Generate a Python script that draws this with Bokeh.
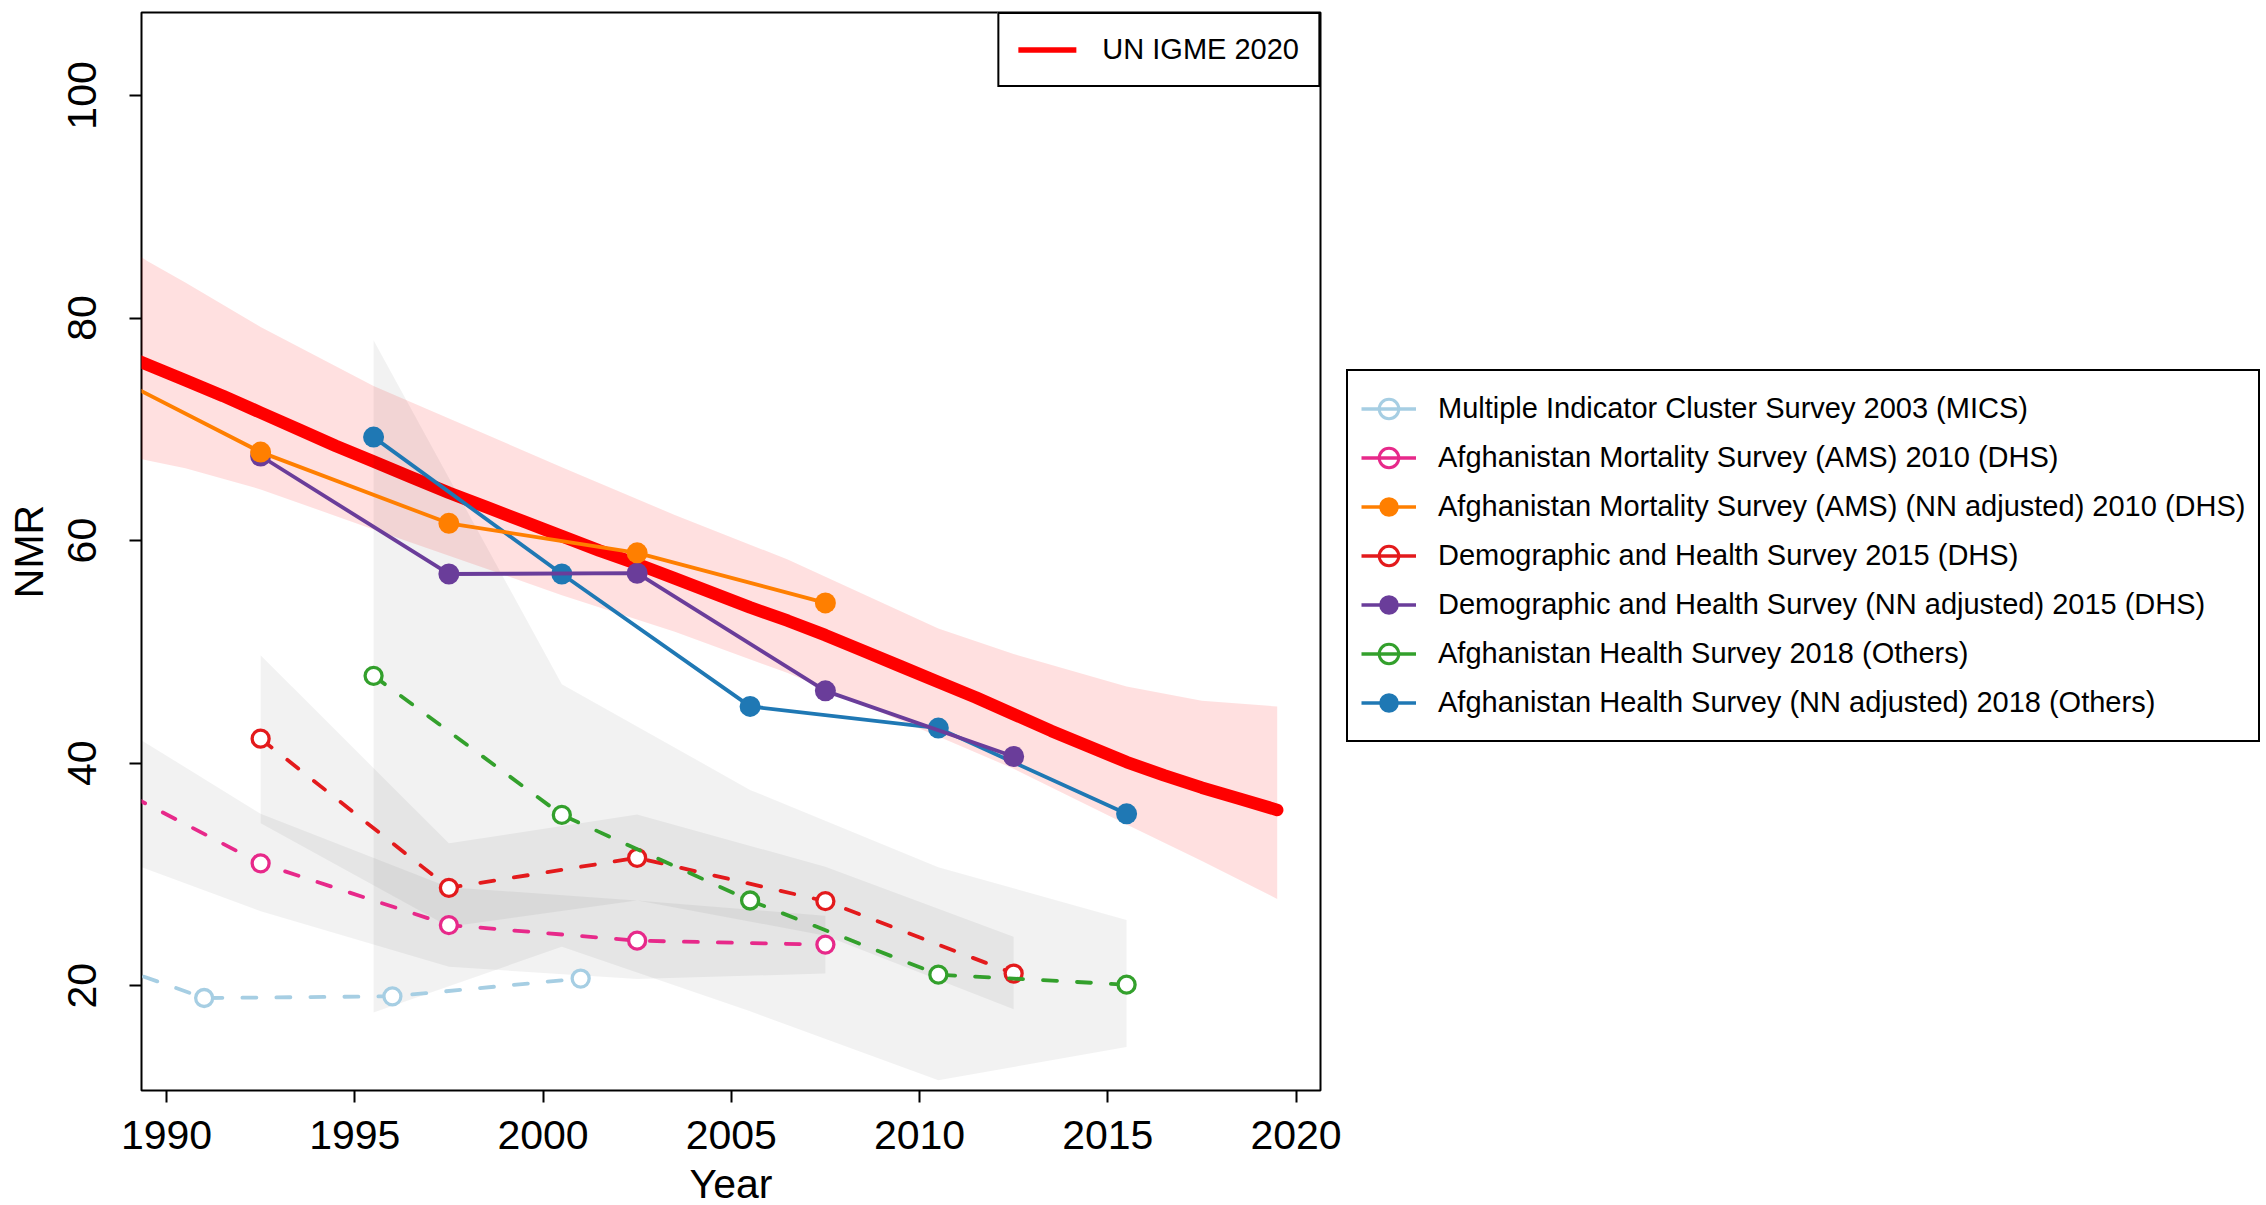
from bokeh.plotting import figure
from bokeh.models import Range1d, FixedTicker, Legend, LegendItem
from bokeh.embed import file_html
from bokeh.resources import INLINE

FONT = "Liberation Sans"
NAN = float("nan")

# ---------------- data ----------------
x_ticks = [1990, 1995, 2000, 2005, 2010, 2015, 2020]
y_ticks = [20, 40, 60, 80, 100]

# UN IGME 2020 estimate
igme_years = [1988.5, 1989.5, 1990.5, 1991.5, 1992.5, 1993.5, 1994.5, 1995.5, 1996.5, 1997.5,
              1998.5, 1999.5, 2000.5, 2001.5, 2002.5, 2003.5, 2004.5, 2005.5, 2006.5, 2007.5,
              2008.5, 2009.5, 2010.5, 2011.5, 2012.5, 2013.5, 2014.5, 2015.5, 2016.5, 2017.5,
              2018.5, 2019.5]
igme_nmr = [77.2, 75.8, 74.4, 73.0, 71.5, 70.0, 68.5, 67.1, 65.7, 64.3,
            63.0, 61.7, 60.4, 59.1, 57.9, 56.6, 55.3, 54.0, 52.8, 51.5,
            50.1, 48.7, 47.3, 45.9, 44.4, 42.9, 41.5, 40.1, 38.9, 37.8,
            36.8, 35.8]
# UN IGME uncertainty band
band_years = [1988.5, 1989.5, 1990.5, 1992.5, 1995.5, 2000.5, 2003.5, 2006.5, 2010.5,
              2012.5, 2015.5, 2017.5, 2019.5]
band_upper = [87.2, 85.1, 83.2, 79.2, 73.9, 66.6, 62.3, 58.3, 52.1, 49.8, 46.9, 45.6, 45.1]
band_lower = [67.9, 67.2, 66.5, 64.6, 61.0, 55.1, 51.8, 48.1, 42.4, 39.5, 34.5, 31.2, 27.8]

# Survey series
mics_years = [1986.0, 1991.0, 1996.0, 2001.0]
mics_nmr = [24.9, 18.9, 19.05, 20.65]

ams_years = [1987.5, 1992.5, 1997.5, 2002.5, 2007.5]
ams_nmr = [39.8, 31.0, 25.45, 24.05, 23.7]
ams_upper = [45.9, 35.45, 28.86, 27.66, 26.3]
ams_lower = [32.95, 26.7, 21.7, 20.6, 21.1]

ams_adj_years = [1987.5, 1992.5, 1997.5, 2002.5, 2007.5]
ams_adj_nmr = [76.6, 67.95, 61.55, 58.9, 54.4]

dhs_years = [1992.5, 1997.5, 2002.5, 2007.5, 2012.5]
dhs_nmr = [42.2, 28.8, 31.5, 27.6, 21.1]
dhs_upper = [49.7, 32.8, 35.4, 30.7, 24.4]
dhs_lower = [34.6, 25.3, 27.66, 24.5, 17.9]

dhs_adj_years = [1992.5, 1997.5, 2002.5, 2007.5, 2012.5]
dhs_adj_nmr = [67.6, 57.0, 57.07, 46.5, 40.6]

ahs_years = [1995.5, 2000.5, 2005.5, 2010.5, 2015.5]
ahs_nmr = [47.85, 35.35, 27.66, 21.0, 20.1]
ahs_upper = [78.0, 47.1, 37.6, 30.65, 25.9]
ahs_lower = [17.6, 23.5, 17.7, 11.5, 14.5]

ahs_adj_years = [1995.5, 2000.5, 2005.5, 2010.5, 2015.5]
ahs_adj_nmr = [69.3, 57.0, 45.1, 43.15, 35.45]

labels = [
    "Multiple Indicator Cluster Survey 2003 (MICS)",
    "Afghanistan Mortality Survey (AMS) 2010 (DHS)",
    "Afghanistan Mortality Survey (AMS) (NN adjusted) 2010 (DHS)",
    "Demographic and Health Survey 2015 (DHS)",
    "Demographic and Health Survey (NN adjusted) 2015 (DHS)",
    "Afghanistan Health Survey 2018 (Others)",
    "Afghanistan Health Survey (NN adjusted) 2018 (Others)",
]
colors = ["#A6CEE3", "#E7298A", "#FF7F00", "#E31A1C", "#6A3D9A", "#33A02C", "#1F78B4"]
filled = [False, False, True, False, True, False, True]

# ---------------- figure ----------------
p = figure(frame_width=1179, frame_height=1078,
           x_range=Range1d(1989.336, 2020.65), y_range=Range1d(10.59, 107.45),
           output_backend="svg", toolbar_location=None,
           min_border_left=141, min_border_right=946, min_border_top=12, min_border_bottom=115,
           background_fill_color="white", border_fill_color="white")
p.grid.visible = False
p.outline_line_color = "black"
p.outline_line_width = 2
p.outline_line_alpha = 1

for ax in (p.xaxis[0], p.yaxis[0]):
    ax.axis_line_color = None
    ax.major_tick_line_color = "black"
    ax.major_tick_line_width = 2
    ax.major_tick_out = 12
    ax.major_tick_in = 0
    ax.minor_tick_line_color = None
    ax.major_label_text_font = FONT
    ax.major_label_text_font_size = "41px"
    ax.major_label_text_color = "black"
    ax.axis_label_text_font = FONT
    ax.axis_label_text_font_size = "41px"
    ax.axis_label_text_font_style = "normal"
    ax.axis_label_text_color = "black"

p.xaxis.ticker = FixedTicker(ticks=x_ticks)
p.yaxis.ticker = FixedTicker(ticks=y_ticks)
p.xaxis.major_label_standoff = 18
p.xaxis.axis_label = "Year"
p.xaxis.axis_label_standoff = 9
p.yaxis.major_label_standoff = 33
p.yaxis.major_label_orientation = "vertical"
p.yaxis.axis_label = "NMR"
p.yaxis.axis_label_standoff = 14

# UN IGME band and line
p.varea(x=band_years, y1=band_lower, y2=band_upper, fill_color="red", fill_alpha=0.12)
p.line(igme_years, igme_nmr, line_color="red", line_width=12.5, line_cap="round", line_join="round")

# grey survey uncertainty bands
GREY_A = 0.052
p.varea(x=ams_years, y1=ams_lower, y2=ams_upper, fill_color="black", fill_alpha=GREY_A)
p.varea(x=dhs_years, y1=dhs_lower, y2=dhs_upper, fill_color="black", fill_alpha=GREY_A)
p.varea(x=ahs_years, y1=ahs_lower, y2=ahs_upper, fill_color="black", fill_alpha=GREY_A)

series = [
    (mics_years, mics_nmr),
    (ams_years, ams_nmr),
    (ams_adj_years, ams_adj_nmr),
    (dhs_years, dhs_nmr),
    (dhs_adj_years, dhs_adj_nmr),
    (ahs_years, ahs_nmr),
    (ahs_adj_years, ahs_adj_nmr),
]
draw_order = [0, 1, 3, 5, 6, 4, 2]
for i in draw_order:
    xs, ys = series[i]
    c = colors[i]
    if filled[i]:
        p.line(xs, ys, line_color=c, line_width=3.8)
        p.scatter(xs, ys, marker="circle", size=21, fill_color=c, line_color=None)
    else:
        p.line(xs, ys, line_color=c, line_width=3.8, line_dash="14 20", line_cap="round")
        p.scatter(xs, ys, marker="circle", size=17, fill_color="white", line_color=c, line_width=3.3)

# ---------------- legends (proxy renderers draw nothing in the frame) ----------------
igme_leg = p.line([NAN], [NAN], line_color="red", line_width=5.5, line_cap="round")
leg1 = Legend(items=[LegendItem(label="UN IGME 2020", renderers=[igme_leg])],
              location="top_right", margin=0, padding=19, spacing=0,
              glyph_width=58, glyph_height=33, label_height=33, label_standoff=26,
              label_text_font=FONT, label_text_font_size="29px", label_text_color="black",
              border_line_color="black", border_line_width=2, border_line_alpha=1,
              background_fill_color="white", background_fill_alpha=1)
p.add_layout(leg1, "center")

items = []
for i in range(len(labels)):
    c = colors[i]
    lr = p.line([NAN], [NAN], line_color=c, line_width=3.3)
    if filled[i]:
        sr = p.scatter([NAN], [NAN], marker="circle", fill_color=c, line_color=None)
    else:
        sr = p.scatter([NAN], [NAN], marker="circle", fill_color=None, fill_alpha=0,
                       line_color=c, line_width=3)
    items.append(LegendItem(label=labels[i], renderers=[lr, sr]))

leg2 = Legend(items=items, location=(26, 348), margin=0, padding=13, spacing=0,
              glyph_width=55, glyph_height=49, label_height=49, label_standoff=22,
              label_text_font=FONT, label_text_font_size="29px", label_text_color="black",
              border_line_color="black", border_line_width=2, border_line_alpha=1,
              background_fill_color="white", background_fill_alpha=1)
p.add_layout(leg2, "right")

open("out.html", "w").write(file_html(p, INLINE))
